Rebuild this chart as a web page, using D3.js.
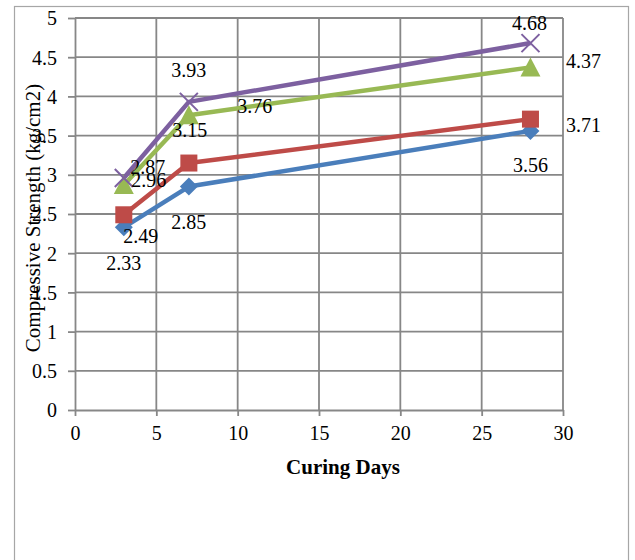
<!DOCTYPE html>
<html><head><meta charset="utf-8">
<script src="https://cdn.jsdelivr.net/npm/d3@7"></script>
<style>body{margin:0;background:#fff}svg{display:block}</style>
</head><body><svg id="c" width="635" height="560"></svg>
<script>
const days = [3, 7, 28];
const seriesNames = ["S1", "S2", "S3", "S4"];
const s1 = [2.33, 2.85, 3.56];
const s2 = [2.49, 3.15, 3.71];
const s3 = [2.87, 3.76, 4.37];
const s4 = [2.96, 3.93, 4.68];
const xTicks = [0, 5, 10, 15, 20, 25, 30];
const yTicks = [0, 0.5, 1, 1.5, 2, 2.5, 3, 3.5, 4, 4.5, 5];
const xTitle = "Curing Days";
const yTitle = "Compressive Strength (kg/cm2)";

const colors = ["#4A7EBB", "#BE4B48", "#98B954", "#7D60A0"];
const markers = ["diamond", "square", "triangle", "x"];
// label offsets (dx, dy) relative to each point
const labelOffsets = [
  [[0, 36], [0, 35], [0, 34]],
  [[17, 21], [1, -33], [53, 6]],
  [[24, -18], [66, -9], [53, -6]],
  [[25, 2], [0, -32], [-1, -20]]
];

const svg = d3.select("#c");
const font = "'Liberation Serif','Times New Roman',serif";
const grid = "#878787";

svg.append("rect").attr("x", 14.5).attr("y", 6.5).attr("width", 614).attr("height", 600)
  .attr("fill", "none").attr("stroke", "#a6a6a6").attr("stroke-width", 1.2);

const x = d3.scaleLinear().domain([0, 30]).range([75, 563]);
const y = d3.scaleLinear().domain([0, 5]).range([410, 18]);

const gx = svg.append("g").attr("transform", "translate(0,410)")
  .call(d3.axisBottom(x).tickValues(xTicks).tickFormat(d => String(d)).tickSize(6).tickSizeOuter(0).tickPadding(10));
const gy = svg.append("g").attr("transform", "translate(75,0)")
  .call(d3.axisLeft(y).tickValues(yTicks).tickFormat(d => String(d)).tickSize(7).tickSizeOuter(0).tickPadding(11));
[gx, gy].forEach(g => {
  g.select(".domain").attr("stroke", grid).attr("stroke-width", 1.8);
  g.selectAll(".tick line").attr("stroke", grid).attr("stroke-width", 1.8);
  g.selectAll(".tick text").attr("font-family", font).attr("font-size", 20).attr("fill", "#000");
});
gy.selectAll(".tick text").attr("dy", "0.34em");
gx.selectAll(".tick text").attr("dy", "0.72em");

// gridlines
svg.append("g").selectAll("line").data(yTicks.filter(d => d > 0)).join("line")
  .attr("x1", x(0)).attr("x2", x(30)).attr("y1", d => y(d)).attr("y2", d => y(d))
  .attr("stroke", grid).attr("stroke-width", 1.8);
svg.append("g").selectAll("line").data(xTicks.filter(d => d > 0)).join("line")
  .attr("y1", y(0)).attr("y2", y(5)).attr("x1", d => x(d)).attr("x2", d => x(d))
  .attr("stroke", grid).attr("stroke-width", 1.8);

const all = [s1, s2, s3, s4];
const line = d3.line().x((d, i) => x(days[i])).y(d => y(d));

all.forEach((vals, si) => {
  svg.append("path").attr("d", line(vals)).attr("fill", "none")
    .attr("stroke", colors[si]).attr("stroke-width", 4.5).attr("stroke-linejoin", "round");
});
all.forEach((vals, si) => {
  const g = svg.append("g");
  vals.forEach((v, i) => {
    const cx = x(days[i]), cy = y(v);
    const m = markers[si];
    if (m === "diamond") {
      g.append("path").attr("d", `M${cx},${cy-9}L${cx+9},${cy}L${cx},${cy+9}L${cx-9},${cy}Z`).attr("fill", colors[si]);
    } else if (m === "square") {
      g.append("rect").attr("x", cx - 8.5).attr("y", cy - 8.5).attr("width", 17).attr("height", 17).attr("fill", colors[si]);
    } else if (m === "triangle") {
      g.append("path").attr("d", `M${cx},${cy-10}L${cx+10},${cy+9}L${cx-10},${cy+9}Z`).attr("fill", colors[si]);
    } else {
      g.append("path").attr("d", `M${cx-9},${cy-9}L${cx+9},${cy+9}M${cx+9},${cy-9}L${cx-9},${cy+9}`)
        .attr("stroke", colors[si]).attr("stroke-width", 2).attr("fill", "none");
    }
  });
});
all.forEach((vals, si) => {
  vals.forEach((v, i) => {
    const [dx, dy] = labelOffsets[si][i];
    svg.append("text").attr("x", x(days[i]) + dx).attr("y", y(v) + dy).attr("dy", "0.35em")
      .attr("text-anchor", "middle").attr("font-family", font).attr("font-size", 20)
      .attr("fill", "#000").text(v.toFixed(2));
  });
});

svg.append("text").attr("x", 343).attr("y", 467).attr("dy", "0.35em").attr("text-anchor", "middle")
  .attr("font-family", font).attr("font-size", 21).attr("font-weight", "bold").text(xTitle);
svg.append("text").attr("transform", "translate(33,218) rotate(-90)").attr("dy", "0.35em")
  .attr("text-anchor", "middle").attr("font-family", font).attr("font-size", 21).text(yTitle);
</script></body></html>
